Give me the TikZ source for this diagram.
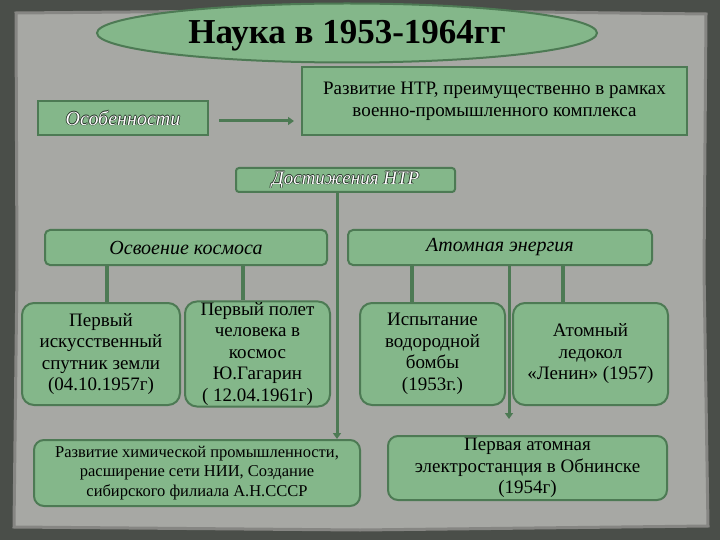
\documentclass[tikz,border=0pt]{standalone}
\usepackage{fontspec}
\setmainfont{Liberation Serif}
\usetikzlibrary{shapes.geometric,arrows.meta,calc}
\definecolor{boxfill}{HTML}{84B78A}
\definecolor{boxdraw}{HTML}{4D7A54}
\definecolor{paper}{HTML}{A7A8A4}
\definecolor{frame}{HTML}{4A4E49}
\definecolor{dk}{HTML}{1E2A20}
\newcommand{\olt}[1]{\leavevmode\rlap{\color{dk}\raisebox{0.7pt}{#1}}\rlap{\color{dk}\raisebox{-0.7pt}{#1}}\rlap{\color{dk}\hspace{0.7pt}#1}\rlap{\color{dk}\hspace{-0.7pt}#1}{\color{white}#1}}
\tikzset{
  box/.style={draw=boxdraw, line width=2pt, fill=boxfill, align=center, inner sep=1pt, text=black},
  rbox/.style={box, rounded corners=12pt, font=\fontsize{19pt}{21.5pt}\selectfont},
  link/.style={draw=boxdraw, line width=4pt},
  arr/.style={draw=boxdraw, line width=3pt, -{Triangle[length=6pt,width=8pt]}},
}
\begin{document}
\begin{tikzpicture}[x=1pt,y=-1pt]
\useasboundingbox (0,0) rectangle (720,540);
\fill[frame] (0,0) rectangle (720,540);
\fill[paper, draw=paper!80!black, line width=3pt] (16,13) -- (360,10) -- (706,14) -- (704,270) -- (708,526) -- (360,530) -- (14,527) -- (17,270) -- cycle;

% title
\node[ellipse, draw=boxdraw, line width=2pt, fill=boxfill, minimum width=500pt, minimum height=59pt, inner sep=0pt, font=\fontsize{35pt}{40pt}\selectfont\bfseries, text depth=0pt, text height=22pt] (title) at (347,33) {Наука в 1953-1964гг};

\node[box, minimum width=170pt, minimum height=34pt, font=\fontsize{20pt}{22pt}\selectfont\itshape] (osob) at (123,118) {\olt{Особенности}};
\node[box, minimum width=385pt, minimum height=68pt, font=\fontsize{19pt}{22pt}\selectfont] (razv) at (494.5,101) {Развитие НТР, преимущественно в рамках\\ военно-промышленного комплекса};
\draw[arr] ([xshift=10pt,yshift=-3pt]osob.east) -- ([xshift=-7pt,yshift=-3pt]osob.east -| razv.west);

\node[box, rounded corners=3pt, minimum width=219pt, minimum height=24pt, font=\fontsize{19pt}{20pt}\selectfont\itshape] (dost) at (345.5,180) {\olt{Достижения НТР}};

\node[box, rounded corners=5pt, minimum width=282pt, minimum height=35pt, font=\fontsize{20pt}{22pt}\selectfont\itshape] (kosm) at (186,247.5) {Освоение космоса};
\node[box, rounded corners=5pt, minimum width=304pt, minimum height=35pt, font=\fontsize{20pt}{22pt}\selectfont\itshape] (atom) at (500,247.5) {Атомная энергия};

\node[rbox, minimum width=158pt, minimum height=102pt] (sput) at (101,354) {Первый\\ искусственный\\ спутник земли\\ (04.10.1957г)};
\node[rbox, minimum width=145pt, minimum height=102pt] (gag) at (257.5,354) {Первый полет\\ человека в\\ космос\\ Ю.Гагарин\\ ( 12.04.1961г)};
\node[rbox, minimum width=145pt, minimum height=102pt] (bomb) at (432.5,354) {Испытание\\ водородной\\ бомбы\\ (1953г.)};
\node[rbox, minimum width=155pt, minimum height=102pt] (led) at (590.5,354) {Атомный\\ ледокол\\ «Ленин» (1957)};

\node[box, rounded corners=10pt, minimum width=326pt, minimum height=66pt, font=\fontsize{16.5pt}{19.5pt}\selectfont] (chem) at (197,473) {Развитие химической промышленности,\\ расширение сети НИИ, Создание\\ сибирского филиала А.Н.СССР};
\node[box, rounded corners=10pt, minimum width=279pt, minimum height=64pt, font=\fontsize{19pt}{21.5pt}\selectfont] (aes) at (527.5,468) {Первая атомная\\ электростанция в Обнинске\\ (1954г)};

% connectors
\draw[link] (107,0 |- kosm.south) -- (107,0 |- sput.north);
\draw[link] (243,0 |- kosm.south) -- (243,0 |- gag.north);
\draw[link] (412,0 |- atom.south) -- (412,0 |- bomb.north);
\draw[link] (563,0 |- atom.south) -- (563,0 |- led.north);
\draw[arr] (337,0 |- dost.south) -- (337,0 |- chem.north);
\draw[arr] (509,0 |- atom.south) -- ([yshift=16pt]509,0 |- aes.north);
\end{tikzpicture}
\end{document}
